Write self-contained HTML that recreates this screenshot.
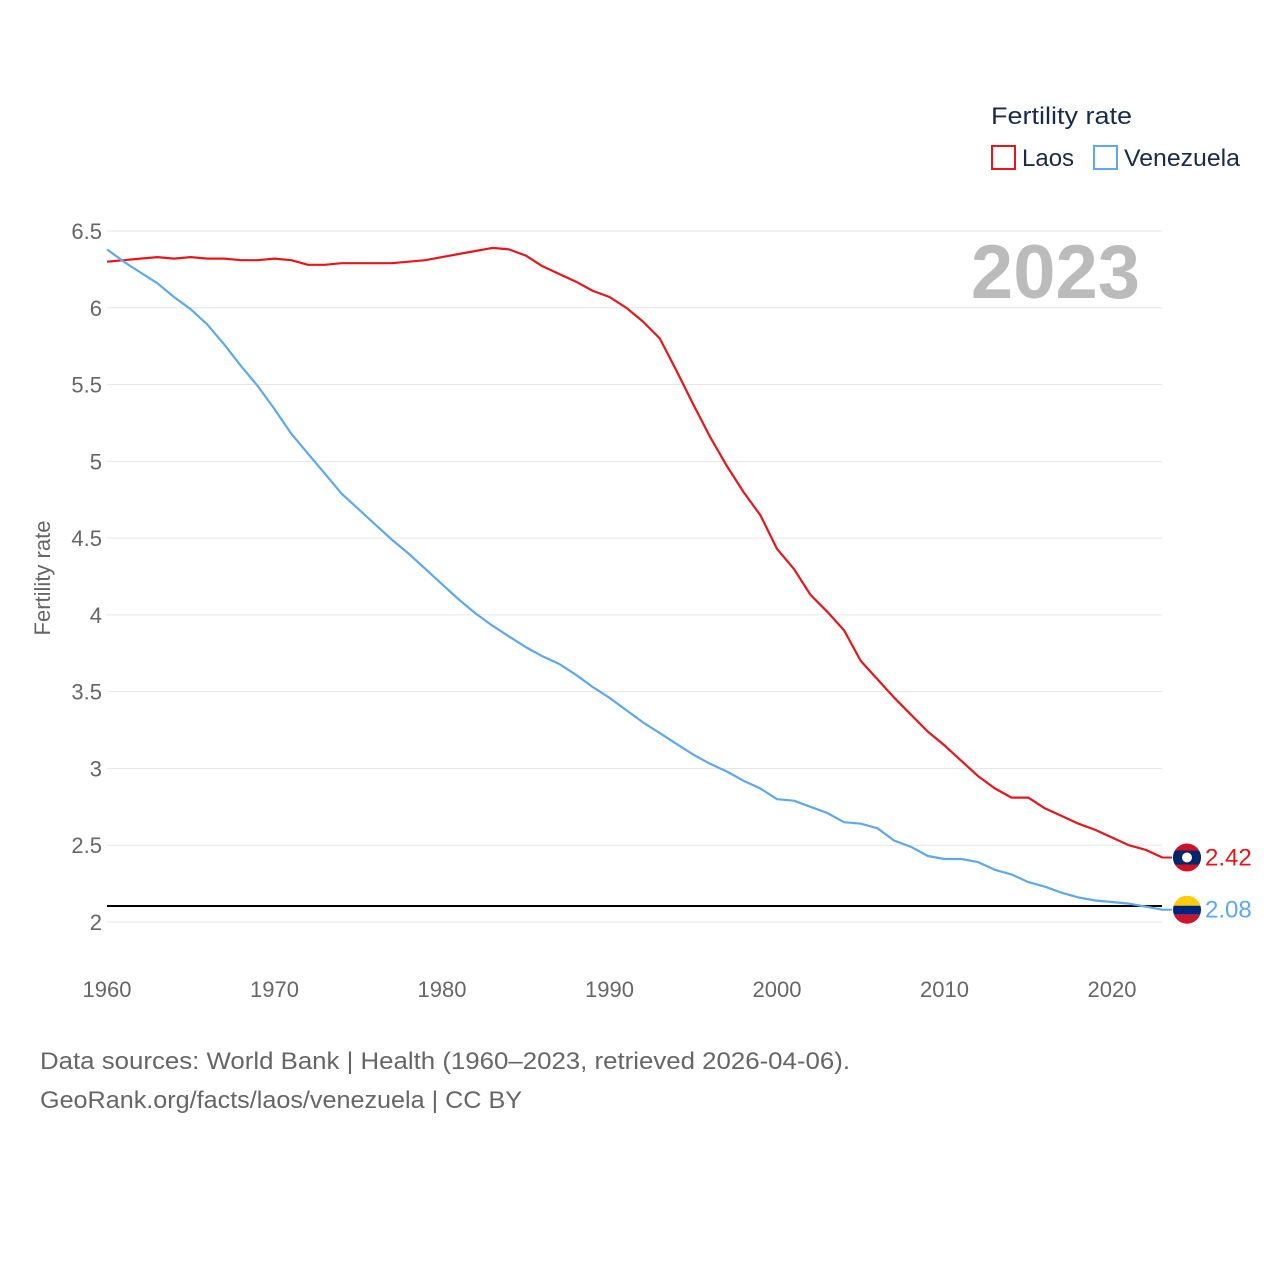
<!DOCTYPE html>
<html><head><meta charset="utf-8">
<style>
body{margin:0;background:#fff;font-family:"Liberation Sans",sans-serif;}
#wrap{position:relative;width:1280px;height:1280px;}
svg text{font-family:"Liberation Sans",sans-serif;}
</style></head>
<body>
<div id="wrap">
<svg id="chart" width="1280" height="1280">
  <g id="grid"></g>
  <g id="yticks"></g>
  <g id="xticks"></g>
  <text x="50" y="578" transform="rotate(-90 50 578)" text-anchor="middle" font-size="22" fill="#666">Fertility rate</text>
  <text x="1140" y="298" text-anchor="end" font-size="76" font-weight="bold" fill="#bbb">2023</text>
  <line x1="107" x2="1162" y1="906" y2="906" stroke="#000" stroke-width="2"/>
  <g id="series"></g>
  <g>
    <text x="991" y="124" font-size="24" fill="#1a2a4a" textLength="141" lengthAdjust="spacingAndGlyphs">Fertility rate</text>
    <g>
      <rect x="992" y="146" width="23" height="23" fill="none" stroke="#e8161b" stroke-width="2"/>
      <text x="1022" y="166" font-size="24" fill="#1a2a4a">Laos</text>
    </g>
    <g>
      <rect x="1094" y="146" width="23" height="23" fill="none" stroke="#5ea8ee" stroke-width="2"/>
      <text x="1124" y="166" font-size="24" fill="#1a2a4a" textLength="116" lengthAdjust="spacingAndGlyphs">Venezuela</text>
    </g>
  </g>
  <text x="40" y="1069" font-size="24" fill="#666" textLength="810" lengthAdjust="spacingAndGlyphs">Data sources: World Bank | Health (1960–2023, retrieved 2026-04-06).</text>
  <text x="40" y="1108" font-size="24" fill="#666" textLength="482" lengthAdjust="spacingAndGlyphs">GeoRank.org/facts/laos/venezuela | CC BY</text>
</svg>
</div>
<script>
const years = [];
for (let y = 1960; y <= 2023; y++) years.push(y);
const laos = [6.30,6.31,6.32,6.33,6.32,6.33,6.32,6.32,6.31,6.31,6.32,6.31,6.28,6.28,6.29,6.29,6.29,6.29,6.30,6.31,6.33,6.35,6.37,6.39,6.38,6.34,6.27,6.22,6.17,6.11,6.07,6.00,5.91,5.80,5.59,5.37,5.16,4.97,4.80,4.65,4.43,4.30,4.13,4.02,3.90,3.70,3.58,3.46,3.35,3.24,3.15,3.05,2.95,2.87,2.81,2.81,2.74,2.69,2.64,2.60,2.55,2.50,2.47,2.42];
const venezuela = [6.38,6.30,6.23,6.16,6.07,5.99,5.89,5.76,5.62,5.49,5.34,5.18,5.05,4.92,4.79,4.69,4.59,4.49,4.40,4.30,4.20,4.10,4.01,3.93,3.86,3.79,3.73,3.68,3.61,3.53,3.46,3.38,3.30,3.23,3.16,3.09,3.03,2.98,2.92,2.87,2.80,2.79,2.75,2.71,2.65,2.64,2.61,2.53,2.49,2.43,2.41,2.41,2.39,2.34,2.31,2.26,2.23,2.19,2.16,2.14,2.13,2.12,2.10,2.08];
const yTicks = [2,2.5,3,3.5,4,4.5,5,5.5,6,6.5];
const yTickLabels = ["2","2.5","3","3.5","4","4.5","5","5.5","6","6.5"];
const xTicks = [1960,1970,1980,1990,2000,2010,2020];

const NS="http://www.w3.org/2000/svg";
const xs = yr => 107 + (yr-1960)*(1005/60);
const ys = v => 922 - (v-2)*(691/4.5);
function mk(tag, attrs, parent){const e=document.createElementNS(NS,tag);for(const k in attrs)e.setAttribute(k,attrs[k]);parent.appendChild(e);return e;}

const grid=document.getElementById('grid'), yt=document.getElementById('yticks'), xt=document.getElementById('xticks'), ser=document.getElementById('series');
yTicks.forEach((v,i)=>{
  const l=mk('line',{x1:107,x2:1162,y1:ys(v),y2:ys(v),stroke:'#e6e6e6','stroke-width':1},grid);
  
  
  const t=mk('text',{x:102,y:ys(v)+8,'text-anchor':'end','font-size':22,fill:'#666'},yt);
  t.textContent=yTickLabels[i];
  
  
});
xTicks.forEach(v=>{
  const t=mk('text',{x:xs(v),y:997,'text-anchor':'middle','font-size':22,fill:'#666'},xt);
  t.textContent=String(v);
  
  
});
function line(data,color,name){
  const d=data.map((v,i)=>(i?'L':'M')+xs(years[i]).toFixed(1)+' '+ys(v).toFixed(1)).join(' ');
  const p=mk('path',{d:d,fill:'none',stroke:color,'stroke-width':2.2,'stroke-linejoin':'round'},ser);
  
  
}
line(laos,'#e8161b','laos-line');
line(venezuela,'#5ea8ee','venezuela-line');

function endLabel(data,color,name,flag){
  const v=data[data.length-1], y=ys(v), x=1187;
  const g=mk('g',{},ser);
  
  
  mk('line',{x1:1162,x2:1172,y1:y,y2:y,stroke:color,'stroke-width':2},g);
  const cid='c'+name;
  const cp=mk('clipPath',{id:cid},g); mk('circle',{cx:x,cy:y,r:14},cp);
  const fg=mk('g',{'clip-path':'url(#'+cid+')'},g);
  if(flag==='laos'){
    mk('rect',{x:x-14,y:y-14,width:28,height:28,fill:'#ce1126'},fg);
    mk('rect',{x:x-14,y:y-7,width:28,height:14,fill:'#002868'},fg);
    mk('circle',{cx:x,cy:y,r:5,fill:'#fff'},fg);
  } else {
    mk('rect',{x:x-14,y:y-14,width:28,height:10,fill:'#ffcc00'},fg);
    mk('rect',{x:x-14,y:y-4,width:28,height:9,fill:'#00247d'},fg);
    mk('rect',{x:x-14,y:y+5,width:28,height:10,fill:'#cf142b'},fg);
  }
  const t=mk('text',{x:1205,y:y+8,'font-size':24,fill:color},g);
  t.textContent=v.toFixed(2);
}
endLabel(laos,'#e8161b','laos-end-label','laos');
endLabel(venezuela,'#5ea8ee','venezuela-end-label','ven');
</script>
</body></html>
